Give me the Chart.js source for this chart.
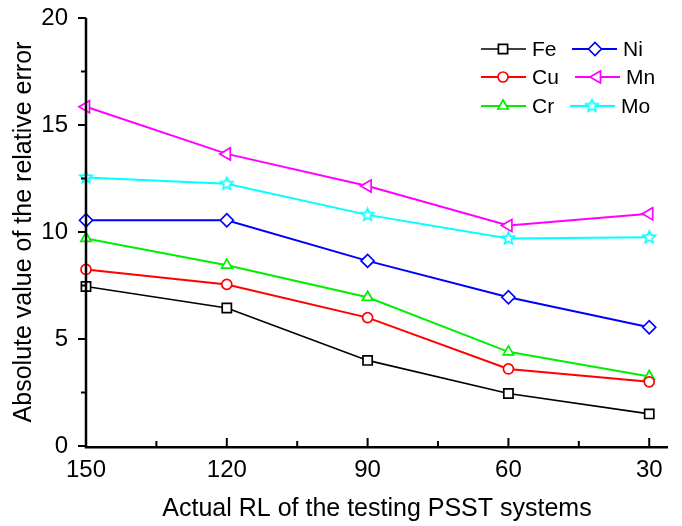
<!DOCTYPE html>
<html>
<head>
<meta charset="utf-8">
<script src="https://cdn.jsdelivr.net/npm/chart.js@4/dist/chart.umd.min.js"></script>
<style>
html,body{margin:0;padding:0;background:#fff;}
#wrap{width:682px;height:526px;}
</style>
</head>
<body>
<div id="wrap"><canvas id="c" width="682" height="526"></canvas></div>
<script>
const xValues = [150, 120, 90, 60, 30];
const xTickLabels = ['150', '120', '90', '60', '30'];
const yTickValues = [0, 5, 10, 15, 20];
const seriesNames = ['Fe', 'Cu', 'Cr', 'Ni', 'Mn', 'Mo'];
const fe = [7.45, 6.45, 4.0, 2.45, 1.5];
const cu = [8.25, 7.55, 6.0, 3.6, 3.0];
const cr = [9.7, 8.45, 6.95, 4.4, 3.25];
const ni = [10.55, 10.55, 8.65, 6.95, 5.55];
const mn = [15.85, 13.65, 12.15, 10.3, 10.85];
const mo = [12.55, 12.25, 10.8, 9.7, 9.75];

const FONT = "'Liberation Sans', Arial, sans-serif";

function starCanvas(color, r) {
  const s = Math.ceil(r * 2 + 4);
  const c = document.createElement('canvas');
  c.width = s; c.height = s;
  const g = c.getContext('2d');
  g.strokeStyle = color; g.lineWidth = 1.6; g.fillStyle = '#fff';
  g.beginPath();
  for (let i = 0; i < 10; i++) {
    const rr = i % 2 === 0 ? r : r * 0.45;
    const a = -Math.PI / 2 + i * Math.PI / 5;
    const px = s / 2 + rr * Math.cos(a), py = s / 2 + rr * Math.sin(a);
    if (i === 0) g.moveTo(px, py); else g.lineTo(px, py);
  }
  g.closePath(); g.fill(); g.stroke();
  return c;
}
const star = starCanvas('#00ffff', 6.5);

function mk(label, data, color, style, radius, rot, lw) {
  return {
    label, data: xValues.map((x, i) => ({x, y: data[i]})),
    borderColor: color, backgroundColor: '#fff',
    pointBorderColor: color, pointBackgroundColor: '#fff',
    pointStyle: style, pointRadius: radius, pointHoverRadius: radius,
    pointRotation: rot, pointBorderWidth: 1.7, borderWidth: lw,
    tension: 0, clip: false
  };
}

const datasets = [
  mk(seriesNames[0], fe, '#000000', 'rect', 6.5, 0, 1.6),
  mk(seriesNames[1], cu, '#ff0000', 'circle', 5, 0, 2),
  mk(seriesNames[2], cr, '#00ee00', 'triangle', 6, 0, 2),
  mk(seriesNames[3], ni, '#0000ff', 'rectRot', 6.5, 0, 2),
  mk(seriesNames[4], mn, '#ff00ff', 'triangle', 7, -90, 2),
  mk(seriesNames[5], mo, '#00ffff', star, 6.5, 0, 2)
];

const tickPlugin = {
  id: 'ticks',
  afterDraw(chart) {
    const ctx = chart.ctx, xs = chart.scales.x, ys = chart.scales.y;
    const a = chart.chartArea;
    ctx.save();
    ctx.strokeStyle = '#000';
    ctx.lineWidth = 2;
    for (let v = 150; v >= 30; v -= 15) {
      const px = xs.getPixelForValue(v);
      const len = (v % 30 === 0) ? 8 : 5;
      ctx.beginPath(); ctx.moveTo(px, a.bottom); ctx.lineTo(px, a.bottom - len); ctx.stroke();
    }
    for (let v = 0; v <= 20; v += 2.5) {
      const py = ys.getPixelForValue(v);
      const len = (v % 5 === 0) ? 8 : 5;
      ctx.beginPath(); ctx.moveTo(a.left, py); ctx.lineTo(a.left - len, py); ctx.stroke();
    }
    ctx.lineWidth = 2.5;
    ctx.beginPath(); ctx.moveTo(a.left, a.top); ctx.lineTo(a.left, a.bottom + 1.2); ctx.lineTo(a.right, a.bottom + 1.2); ctx.stroke();
    ctx.restore();
  }
};

const legendPlugin = {
  id: 'customLegend',
  afterDraw(chart) {
    const ctx = chart.ctx;
    const layout = [
      {i: 0, x1: 481, x2: 526, mx: 503, tx: 532, y: 49},
      {i: 1, x1: 481, x2: 526, mx: 503, tx: 532, y: 77},
      {i: 2, x1: 481, x2: 526, mx: 503, tx: 532, y: 106},
      {i: 3, x1: 572, x2: 617, mx: 595, tx: 623, y: 49},
      {i: 4, x1: 575, x2: 620, mx: 597, tx: 626, y: 77},
      {i: 5, x1: 570, x2: 615, mx: 592, tx: 621, y: 106}
    ];
    ctx.save();
    layout.forEach(l => {
      const ds = chart.data.datasets[l.i];
      ctx.strokeStyle = ds.borderColor; ctx.lineWidth = ds.borderWidth;
      ctx.beginPath(); ctx.moveTo(l.x1, l.y); ctx.lineTo(l.x2, l.y); ctx.stroke();
      ctx.fillStyle = '#fff'; ctx.lineWidth = ds.pointBorderWidth;
      Chart.helpers.drawPoint(ctx, {pointStyle: ds.pointStyle, rotation: ds.pointRotation, radius: ds.pointRadius, borderWidth: ds.pointBorderWidth}, l.mx, l.y);
      ctx.fillStyle = '#000'; ctx.font = '21px ' + FONT; ctx.textBaseline = 'middle'; ctx.textAlign = 'left';
      ctx.fillText(ds.label, l.tx, l.y + 1);
    });
    ctx.restore();
  }
};

function zeroPad(s) { s.paddingTop = 0; s.paddingBottom = 0; s.paddingLeft = 0; s.paddingRight = 0; }

new Chart(document.getElementById('c'), {
  type: 'line',
  data: {datasets},
  options: {
    responsive: false, animation: false,
    layout: {padding: {top: 18, right: 14, left: 0, bottom: 0}},
    plugins: {legend: {display: false}, tooltip: {enabled: false}},
    scales: {
      x: {
        type: 'linear', reverse: true, min: 26, max: 150,
        afterBuildTicks: s => { s.ticks = xValues.map(v => ({value: v})); },
        afterFit: s => { s.height = 80; zeroPad(s); },
        grid: {display: false, drawTicks: false},
        border: {display: false},
        ticks: {
          color: '#000', font: {family: FONT, size: 24}, padding: 10, maxRotation: 0,
          callback: (v) => xTickLabels[xValues.indexOf(v)]
        },
        title: {display: true, text: 'Actual RL of the testing PSST systems', color: '#000', font: {family: FONT, size: 25}, padding: {top: 0, bottom: 2}}
      },
      y: {
        type: 'linear', min: 0, max: 20,
        afterBuildTicks: s => { s.ticks = yTickValues.map(v => ({value: v})); },
        afterFit: s => { s.width = 86; zeroPad(s); },
        grid: {display: false, drawTicks: false},
        border: {display: false},
        ticks: {color: '#000', font: {family: FONT, size: 24}, padding: 18},
        title: {display: true, text: 'Absolute value of the relative error', color: '#000', font: {family: FONT, size: 25}, padding: {top: 9, bottom: 0}}
      }
    }
  },
  plugins: [tickPlugin, legendPlugin]
});
</script>
</body>
</html>
